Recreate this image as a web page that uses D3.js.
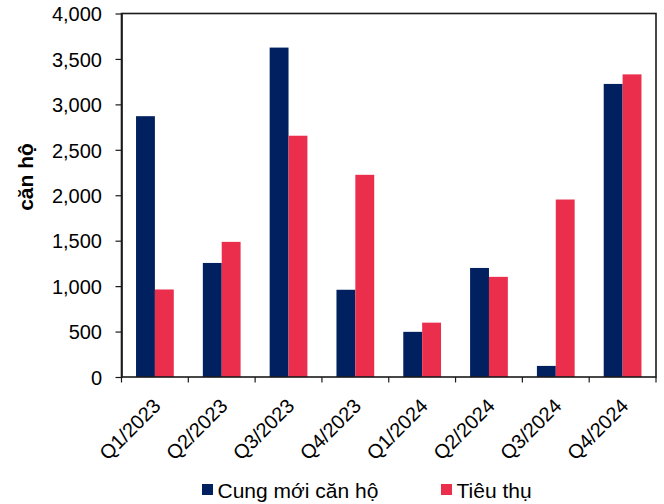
<!DOCTYPE html>
<html>
<head>
<meta charset="utf-8">
<script src="https://cdn.jsdelivr.net/npm/d3@7"></script>
<style>
  html, body { margin: 0; padding: 0; background: #fff; }
  svg { display: block; font-family: "Liberation Sans", Arial, sans-serif; }
</style>
</head>
<body>
<svg id="chart" width="664" height="504"></svg>
<script>
// Quarterly apartment supply vs. absorption
const quarters = ["Q1/2023", "Q2/2023", "Q3/2023", "Q4/2023", "Q1/2024", "Q2/2024", "Q3/2024", "Q4/2024"];
const newSupply = [2870, 1255, 3625, 960, 497, 1200, 122, 3225];
const absorption = [963, 1487, 2655, 2225, 598, 1102, 1953, 3330];
const seriesNames = ["Cung mới căn hộ", "Tiêu thụ"];
const seriesColors = ["#012060", "#EA2E4C"];
const yTicks = [0, 500, 1000, 1500, 2000, 2500, 3000, 3500, 4000];
const yTitle = "căn hộ";

const FONT = "Liberation Sans, Arial, sans-serif";
const svg = d3.select("#chart");
const m = { left: 121.5, right: 656, top: 13.5, bottom: 377 };

const x = d3.scaleBand().domain(quarters).range([m.left, m.right]);
const inner = d3.scaleBand().domain([0, 1]).range([0, x.bandwidth()]).paddingOuter(0.77).paddingInner(0);
const y = d3.scaleLinear().domain([0, 4000]).range([m.bottom, m.top]);

const rows = quarters.map((q, i) => ({ q, vals: [newSupply[i], absorption[i]] }));

// bars
const g = svg.append("g");
rows.forEach(r => {
  r.vals.forEach((v, k) => {
    g.append("rect")
      .attr("x", x(r.q) + inner(k))
      .attr("y", y(v))
      .attr("width", inner.bandwidth())
      .attr("height", y(0) - y(v))
      .attr("fill", seriesColors[k]);
  });
});

// frame
svg.append("rect")
  .attr("x", m.left).attr("y", m.top)
  .attr("width", m.right - m.left).attr("height", m.bottom - m.top)
  .attr("fill", "none").attr("stroke", "#1a1a1a").attr("stroke-width", 1.6);

// y axis
const yAxis = d3.axisLeft(y).tickValues(yTicks).tickSize(6).tickSizeOuter(0)
  .tickFormat(d3.format(","));
const ya = svg.append("g").attr("transform", `translate(${m.left},0)`).call(yAxis);
ya.select(".domain").attr("stroke", "#1a1a1a").attr("stroke-width", 1.6);
ya.selectAll(".tick line").attr("stroke", "#1a1a1a").attr("stroke-width", 1.2);
ya.selectAll(".tick text").attr("x", -19.5).attr("dy", "0.36em")
  .style("font-size", "20px").style("font-family", FONT).attr("fill", "#000");

// x axis: ticks at band edges
const xa = svg.append("g").attr("transform", `translate(0,${m.bottom})`);
const edges = quarters.map(q => x(q)).concat([m.right]);
xa.selectAll("line.edge").data(edges).join("line").attr("class", "edge")
  .attr("x1", d => d).attr("x2", d => d).attr("y1", 0).attr("y2", 5.5)
  .attr("stroke", "#1a1a1a").attr("stroke-width", 1.2);
xa.selectAll("text.lbl").data(quarters).join("text").attr("class", "lbl")
  .attr("transform", d => `translate(${x(d) + x.bandwidth() / 2 - 3},${20}) rotate(-45)`)
  .attr("text-anchor", "end").attr("dy", "0.71em")
  .style("font-size", "20px").style("font-family", FONT).attr("fill", "#000")
  .text(d => d);

// y title
svg.append("text")
  .attr("transform", `translate(33,177) rotate(-90)`)
  .attr("text-anchor", "middle")
  .style("font-size", "21px").style("font-family", FONT)
  .attr("font-weight", "bold").attr("fill", "#000")
  .text(yTitle);

// legend
const legendX = [202, 441];
seriesNames.forEach((name, k) => {
  svg.append("rect").attr("x", legendX[k]).attr("y", 484).attr("width", 11).attr("height", 11)
    .attr("fill", seriesColors[k]);
  svg.append("text").attr("x", legendX[k] + 15.5).attr("y", 497.5)
    .style("font-size", "21px").style("font-family", FONT).attr("fill", "#000").text(name);
});
</script>
</body>
</html>
